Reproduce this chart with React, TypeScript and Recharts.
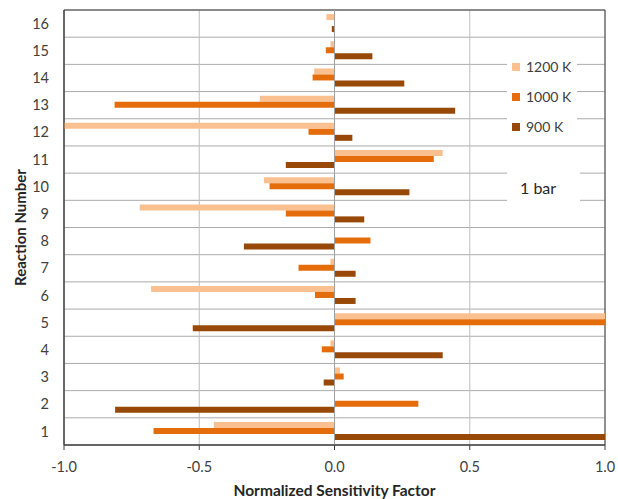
import React from 'react';
import {
  BarChart,
  Bar,
  XAxis,
  YAxis,
  CartesianGrid,
  Legend,
  ReferenceLine,
  ReferenceArea,
  Label,
} from 'recharts';

const reactions = ['1', '2', '3', '4', '5', '6', '7', '8', '9', '10', '11', '12', '13', '14', '15', '16'];
const k1200 = [-0.446, 0, 0.02, -0.015, 1.0, -0.678, -0.015, 0, -0.72, -0.261, 0.4, -1.0, -0.276, -0.075, -0.015, -0.03];
const k1000 = [-0.669, 0.31, 0.034, -0.047, 1.0, -0.072, -0.133, 0.133, -0.18, -0.24, 0.367, -0.096, -0.813, -0.081, -0.032, 0];
const k900 = [1.0, -0.811, -0.04, 0.4, -0.524, 0.078, 0.078, -0.335, 0.11, 0.277, -0.18, 0.066, 0.446, 0.258, 0.14, -0.01];
const xTicks = [-1, -0.5, 0, 0.5, 1];
const seriesNames = ['1200 K', '1000 K', '900 K'];
const pressureLabel = '1 bar';
const xTitle = 'Normalized Sensitivity Factor';
const yTitle = 'Reaction Number';

const data = reactions.map((r, i) => ({ reaction: r, k1200: k1200[i], k1000: k1000[i], k900: k900[i] }));

const FONT = "Lato, 'Open Sans', sans-serif";
const TEXT = '#404040';
const DARK = '#404040';
const GRID = '#ABABAB';

const renderLegend = (props: any) => {
  const payload = [...(props.payload || [])].sort(
    (a: any, b: any) => seriesNames.indexOf(a.value) - seriesNames.indexOf(b.value)
  );
  return (
    <div style={{ background: '#fff', padding: '2px 5px', width: 70, boxSizing: 'border-box', fontFamily: FONT }}>
      {payload.map((p: any) => (
        <div key={p.value} style={{ display: 'flex', alignItems: 'center', height: 30 }}>
          <span style={{ width: 8, height: 8, background: p.color, marginRight: 6, display: 'inline-block' }} />
          <span style={{ fontSize: 14, color: TEXT, lineHeight: '14px' }}>{p.value}</span>
        </div>
      ))}
    </div>
  );
};

export default function App() {
  return (
    <div style={{ position: 'absolute', left: 0, top: 0, width: 618, height: 499, background: '#fff' }}>
      <BarChart
        width={618}
        height={499}
        data={data}
        layout="vertical"
        margin={{ top: 10, right: 13, left: 0, bottom: 0 }}
        barCategoryGap="15%"
        barGap={0}
      >
        <CartesianGrid
          horizontal={true}
          vertical={false}
          stroke={GRID}
          horizontalCoordinatesGenerator={({ offset }: any) =>
            Array.from({ length: reactions.length + 1 }, (_, i) => offset.top + (i * offset.height) / reactions.length)
          }
        />
        <CartesianGrid horizontal={false} vertical={true} stroke="#BFBFBF" />
        <ReferenceLine x={0} stroke="#A0A0A0" />
        <XAxis
          type="number"
          domain={[-1, 1]}
          ticks={xTicks}
          interval={0}
          allowDataOverflow
          tickFormatter={(v: number) => v.toFixed(1)}
          tick={{ fontSize: 14.5, fill: TEXT, fontFamily: FONT }}
          tickSize={5}
          tickMargin={12}
          tickLine={{ stroke: DARK }}
          axisLine={{ stroke: DARK }}
          height={54}
        >
          <Label
            value={xTitle}
            position="insideBottom"
            offset={3}
            style={{ fontSize: 15.5, fontWeight: 700, fill: '#262626', fontFamily: FONT }}
          />
        </XAxis>
        <YAxis
          type="category"
          dataKey="reaction"
          reversed
          width={64}
          interval={0}
          tickLine={false}
          tickSize={5}
          tickMargin={10}
          tick={{ fontSize: 14.5, fill: TEXT, fontFamily: FONT }}
          axisLine={{ stroke: DARK }}
        >
          <Label
            content={({ viewBox }: any) => {
              const cx = viewBox.x + 20;
              const cy = viewBox.y + viewBox.height / 2;
              return (
                <text
                  x={cx}
                  y={cy}
                  transform={`rotate(-90, ${cx}, ${cy})`}
                  textAnchor="middle"
                  dominantBaseline="central"
                  style={{ fontSize: 15, fontWeight: 700, fill: '#262626', fontFamily: FONT }}
                >
                  {yTitle}
                </text>
              );
            }}
          />
        </YAxis>
        <Bar dataKey="k1200" name={seriesNames[0]} fill="#FAC090" isAnimationActive={false} />
        <Bar dataKey="k1000" name={seriesNames[1]} fill="#E46C0A" isAnimationActive={false} />
        <Bar dataKey="k900" name={seriesNames[2]} fill="#984807" isAnimationActive={false} />
        <ReferenceArea x1={-1} x2={1} fill="none" fillOpacity={0} stroke={DARK} strokeWidth={1} ifOverflow="extendDomain" />
        <Legend
          layout="vertical"
          align="center"
          verticalAlign="middle"
          content={renderLegend}
          wrapperStyle={{ left: 507, top: 50, width: 70 }}
        />
      </BarChart>
      <div
        style={{
          position: 'absolute',
          left: 507,
          top: 162,
          width: 73,
          height: 52,
          background: '#fff',
          fontFamily: FONT,
          fontSize: 16,
          color: '#262626',
          boxSizing: 'border-box',
          paddingLeft: 13,
          lineHeight: '52px',
          zIndex: 2,
        }}
      >
        {pressureLabel}
      </div>
    </div>
  );
}
